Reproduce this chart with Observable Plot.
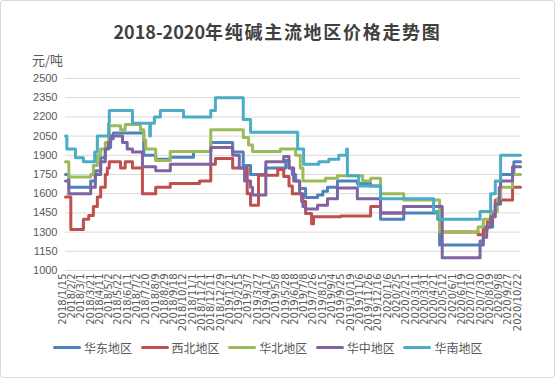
<!DOCTYPE html>
<html><head><meta charset="utf-8">
<script src="https://cdn.jsdelivr.net/npm/d3@7"></script>
<script src="https://cdn.jsdelivr.net/npm/@observablehq/plot@0.6"></script>
<style>
body{margin:0;background:#fff;}
#wrap{position:relative;width:555px;height:378px;overflow:hidden;font-family:"Noto Sans CJK SC","Noto Sans",sans-serif;background:#fff;}
#frame{position:absolute;left:0;top:0;width:555px;height:378px;box-sizing:border-box;border:1px solid #d9d9d9;border-radius:3px;pointer-events:none;}
#title{position:absolute;left:0;top:16px;width:555px;text-align:center;font-size:18px;font-weight:bold;color:#404040;line-height:30px;white-space:nowrap;}
#title .cjk{letter-spacing:1.7px;}
#unit{position:absolute;left:32px;top:52px;font-size:13px;color:#595959;line-height:16px;}
#chart{position:absolute;left:0;top:45px;}
.lg{position:absolute;top:339px;height:16px;display:flex;align-items:center;font-size:12px;color:#595959;white-space:nowrap;}
.lg .sw{width:28px;height:3px;border-radius:1.5px;margin-right:3px;}
</style>
</head><body>
<div id="wrap">
  <div id="title"><span>2018-2020</span><span class="cjk">年纯碱主流地区价格走势图</span></div>
  <div id="unit">元/吨</div>
  <div id="chart"></div>
  <div id="frame"></div>
</div>
<script>
// ---- data ----
const xLabels = ["2018/1/15","2018/2/2","2018/3/1","2018/3/21","2018/4/11","2018/5/2","2018/5/22","2018/6/11","2018/7/2","2018/7/20","2018/8/9","2018/8/29","2018/9/18","2018/10/12","2018/11/1","2018/11/21","2018/12/11","2018/12/29","2019/1/21","2019/2/15","2019/3/7","2019/3/27","2019/4/17","2019/5/8","2019/5/28","2019/6/18","2019/7/8","2019/7/26","2019/8/15","2019/9/4","2019/9/25","2019/10/19","2019/11/6","2019/11/26","2019/12/16","2020/1/6","2020/2/5","2020/2/21","2020/3/11","2020/3/31","2020/4/21","2020/5/12","2020/6/1","2020/6/19","2020/7/10","2020/7/30","2020/8/19","2020/9/8","2020/9/27","2020/10/22"];
const labelStep = 14; // trading days between labels
const yTicks = [1000,1150,1300,1450,1600,1750,1900,2050,2200,2350,2500];
const seriesNames = ["华东地区","西北地区","华北地区","华中地区","华南地区"];
const seriesColors = ["#4F81BD","#C0504D","#9BBB59","#8064A2","#4BACC6"];

// change points: [trading-day index, price]
const huadong = [[0,1750],[5,1650],[38,1700],[45,1780],[53,1880],[60,1960],[68,2030],[72,2075],[118,1900],[136,1870],[158,1885],[193,1930],[219,2000],[252,1925],[268,1820],[279,1750],[302,1800],[332,1860],[337,1800],[342,1750],[347,1700],[353,1640],[362,1570],[380,1590],[388,1620],[395,1650],[410,1700],[440,1680],[460,1660],[475,1400],[510,1450],[564,1200],[625,1230],[630,1340],[644,1450],[648,1520],[656,1750],[676,1850],[686,1850]];
const xibei = [[0,1575],[8,1320],[27,1400],[35,1430],[42,1500],[48,1575],[53,1650],[60,1750],[63,1800],[66,1850],[83,1800],[90,1850],[101,1800],[116,1600],[136,1650],[158,1680],[202,1700],[219,1830],[226,1875],[252,1800],[274,1600],[279,1510],[291,1745],[320,1790],[329,1735],[337,1660],[342,1600],[356,1540],[362,1445],[371,1365],[374,1420],[415,1425],[460,1500],[475,1450],[510,1500],[566,1300],[622,1280],[630,1320],[636,1380],[643,1450],[648,1550],[674,1650],[686,1650]];
const huabei = [[0,1850],[5,1730],[38,1750],[42,1820],[48,1900],[53,1950],[60,2000],[65,2060],[66,2130],[83,2100],[90,2140],[113,2100],[118,2020],[121,1950],[136,1860],[158,1930],[219,2100],[268,2040],[276,1980],[282,1930],[324,1950],[347,1900],[354,1800],[358,1700],[392,1720],[410,1740],[448,1700],[460,1720],[475,1600],[510,1550],[564,1300],[622,1340],[630,1400],[641,1460],[651,1560],[656,1650],[674,1750],[686,1750]];
const huazhong = [[0,1700],[5,1600],[38,1650],[45,1750],[53,1850],[60,1950],[65,2000],[68,2050],[86,2000],[93,1950],[101,1925],[116,1810],[136,1780],[158,1830],[219,1960],[252,1900],[262,1800],[270,1700],[279,1650],[282,1590],[302,1850],[329,1890],[337,1800],[344,1700],[353,1600],[358,1500],[362,1480],[380,1510],[395,1560],[410,1645],[440,1560],[475,1450],[510,1500],[568,1100],[625,1200],[630,1260],[635,1340],[641,1420],[648,1520],[654,1650],[656,1700],[674,1810],[686,1810]];
const huanan = [[0,2050],[2,1950],[15,1880],[27,1850],[44,1925],[48,2050],[65,2150],[66,2250],[101,2150],[127,2050],[128,2150],[134,2200],[143,2250],[178,2200],[219,2250],[226,2350],[268,2180],[279,2080],[350,1950],[359,1830],[382,1850],[397,1870],[412,1900],[424,1950],[425,1740],[442,1660],[475,1560],[555,1460],[561,1400],[625,1460],[641,1600],[648,1700],[656,1900],[686,1900]];

const allSeries = [huadong, xibei, huabei, huazhong, huanan];
const rows = allSeries.flatMap((arr, k) => arr.map(([x, y]) => ({x, y, s: seriesNames[k]})));
const tickIdx = xLabels.map((_, i) => i * labelStep);

const chart = Plot.plot({
  width: 555, height: 290,
  marginLeft: 65, marginRight: 35, marginTop: 33, marginBottom: 65,
  x: {domain: [0, (xLabels.length - 1) * labelStep], axis: null},
  y: {domain: [1000, 2500], axis: null},
  color: {domain: seriesNames, range: seriesColors},
  style: {fontFamily: '"DejaVu Sans", sans-serif', color: "#595959", background: "transparent", overflow: "visible"},
  marks: [
    Plot.gridY(yTicks, {stroke: "#d9d9d9", strokeOpacity: 1}),
    Plot.axisY(yTicks, {tickSize: 0, tickPadding: 8, fontSize: 11, label: null, fontFamily: '"Liberation Sans", sans-serif', tickFormat: d => String(d)}),
    Plot.axisX(tickIdx, {tickSize: 0, tickPadding: 3, tickRotate: -90, fontSize: 10, label: null, dx: -3, tickFormat: d => xLabels[d / labelStep]}),
    Plot.line(rows, {x: "x", y: "y", z: "s", stroke: "s", curve: "step-after", strokeWidth: 3, strokeLinejoin: "round"})
  ]
});
document.getElementById("chart").appendChild(chart);

// legend
const wrap = document.getElementById("wrap");
seriesNames.forEach((name, k) => {
  const d = document.createElement("div");
  d.className = "lg";
  d.style.left = (53 + k * 87.6) + "px";
  d.innerHTML = `<span class="sw" style="background:${seriesColors[k]}"></span><span>${name}</span>`;
  wrap.appendChild(d);
});
</script>
</body></html>
